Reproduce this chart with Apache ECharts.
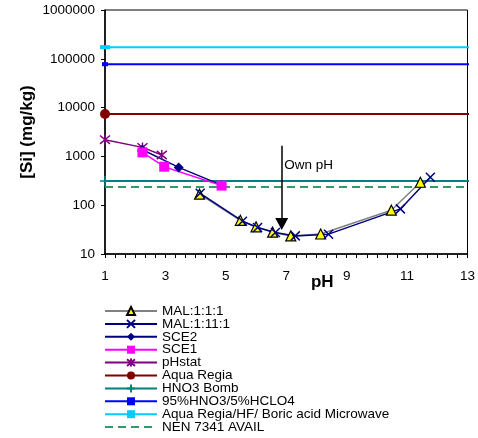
<!DOCTYPE html>
<html><head><meta charset="utf-8">
<script src="https://cdn.jsdelivr.net/npm/echarts@6/dist/echarts.min.js"></script>
<style>html,body{margin:0;padding:0;background:#fff}#c{width:478px;height:438px}</style>
</head><body><div id="c"></div>
<script>
const mal111X = [4.13, 5.48, 6.0, 6.55, 7.15, 8.14, 10.48, 11.44];
const mal111Y = [168, 49, 36, 28, 23.5, 25.7, 79, 295];
const mal1111X = [4.15, 5.55, 6.05, 6.64, 7.3, 8.4, 10.78, 11.77];
const mal1111Y = [175, 47, 35, 27.5, 23.5, 25.5, 84, 375];
const sce2X = [2.24, 3.44, 4.86];
const sce2Y = [1370, 595, 258];
const sce1X = [2.24, 2.96, 4.86];
const sce1Y = [1210, 615, 252];
const phstatX = [1.0, 2.24, 2.88];
const phstatY = [2200, 1530, 1070];
const levelStartX = 1;
const levelEndX = 13.16;
const aquaRegia = 7400;
const hno3Bomb = 315;
const hno3Hclo4 = 77600;
const aquaRegiaHF = 173000;
const nen7341 = 237;
const ownPhX = 6.85;
const ownPhFrom = 1660;
const ownPhTo = 41;
const ownPhLabel = [6.93, 670];
const xTicks = [1, 3, 5, 7, 9, 11, 13];
const yTicks = [10, 100, 1000, 10000, 100000, 1000000];

const pair = (xs, ys) => xs.map((x, i) => [x, ys[i]]);
const level = (v) => [[levelStartX, v], {value: [levelEndX, v], symbol: 'none'}];
const font = 'Liberation Sans, Arial, sans-serif';
const X_PATH = 'path://M0,0L10,10M10,0L0,10';
const STAR_PATH = 'path://M0,0L10,10M10,0L0,10M5,-1L5,11';
const PLUS_PATH = 'path://M5,0L5,10M0,5L10,5';

const chart = echarts.init(document.getElementById('c'), null, {renderer: 'canvas'});
const option = {
  animation: false,
  backgroundColor: '#fff',
  textStyle: {fontFamily: font},
  grid: {left: 105, top: 10, right: 9, bottom: 184, show: true, borderColor: '#000', borderWidth: 1},
  xAxis: {
    type: 'value', min: xTicks[0], max: xTicks[xTicks.length - 1], interval: 2,
    name: 'pH', nameLocation: 'middle', nameGap: 20, nameMoveOverlap: false,
    nameTextStyle: {fontFamily: font, fontSize: 17, fontWeight: 'bold', color: '#000', padding: [0, 0, 0, 72]},
    axisLine: {lineStyle: {color: '#000', width: 1.5}},
    axisTick: {show: true, inside: false, length: 4, lineStyle: {color: '#000'}},
    minorTick: {show: true, splitNumber: 6, length: 4, lineStyle: {color: '#000'}},
    axisLabel: {fontFamily: font, fontSize: 13.5, color: '#000', margin: 15},
    splitLine: {show: false}
  },
  yAxis: {
    type: 'log', logBase: 10, min: yTicks[0], max: yTicks[yTicks.length - 1],
    name: '[Si] (mg/kg)', nameLocation: 'middle', nameGap: 69, nameRotate: 90, nameMoveOverlap: false,
    nameTextStyle: {fontFamily: font, fontSize: 17, fontWeight: 'bold', color: '#000'},
    axisLine: {show: true, lineStyle: {color: '#000', width: 1.5}},
    axisTick: {show: true, inside: false, length: 4, lineStyle: {color: '#000'}},
    axisLabel: {fontFamily: font, fontSize: 13.5, color: '#000', margin: 10, formatter: v => String(Math.round(v))},
    splitLine: {show: false}
  },
  legend: {
    orient: 'vertical', left: 99, top: 302, height: 134, padding: [2, 5, 0, 5],
    itemWidth: 52, itemHeight: 10, itemGap: -1.1,
    textStyle: {fontFamily: font, fontSize: 13.5, color: '#000', lineHeight: 12.9},
    data: ['MAL:1:1:1', 'MAL:1:11:1', 'SCE2', 'SCE1', 'pHstat', 'Aqua Regia', 'HNO3 Bomb', '95%HNO3/5%HCLO4', 'Aqua Regia/HF/ Boric acid Microwave', 'NEN 7341 AVAIL']
  },
  series: [
    {name: 'Aqua Regia/HF/ Boric acid Microwave', type: 'line', clip: false, data: level(aquaRegiaHF),
     symbol: 'rect', symbolSize: [10, 4], lineStyle: {color: '#00CCFF', width: 2}, itemStyle: {color: '#00CCFF'}},
    {name: '95%HNO3/5%HCLO4', type: 'line', clip: false, data: level(hno3Hclo4),
     symbol: 'rect', symbolSize: [6, 4], lineStyle: {color: '#0000FF', width: 2}, itemStyle: {color: '#0000FF'}},
    {name: 'Aqua Regia', type: 'line', clip: false, data: level(aquaRegia),
     symbol: 'circle', symbolSize: 10, lineStyle: {color: '#800000', width: 2}, itemStyle: {color: '#800000'}},
    {name: 'HNO3 Bomb', type: 'line', clip: false, data: level(hno3Bomb),
     symbol: PLUS_PATH, symbolSize: 10, lineStyle: {color: '#008080', width: 2},
     itemStyle: {color: '#008080', borderColor: '#008080', borderWidth: 1.5}},
    {name: 'NEN 7341 AVAIL', type: 'line', clip: false, data: [[levelStartX, nen7341], [levelEndX, nen7341]],
     symbol: 'none', symbolSize: 0, showSymbol: false,
     lineStyle: {color: '#339966', width: 2, type: [8, 5]}, itemStyle: {color: '#339966', opacity: 0}},
    {name: 'pHstat', type: 'line', data: pair(phstatX, phstatY),
     symbol: STAR_PATH, symbolSize: 10, lineStyle: {color: '#800080', width: 1.5},
     itemStyle: {color: '#800080', borderColor: '#800080', borderWidth: 1.5}},
    {name: 'SCE2', type: 'line', data: pair(sce2X, sce2Y),
     symbol: 'diamond', symbolSize: 10, lineStyle: {color: '#000080', width: 1.5}, itemStyle: {color: '#000080'}},
    {name: 'SCE1', type: 'line', data: pair(sce1X, sce1Y),
     symbol: 'rect', symbolSize: 10, lineStyle: {color: '#FF00FF', width: 1.5}, itemStyle: {color: '#FF00FF'}},
    {name: 'MAL:1:1:1', type: 'line', data: pair(mal111X, mal111Y),
     symbol: 'triangle', symbolSize: 10, lineStyle: {color: '#808080', width: 1.5},
     itemStyle: {color: '#FFFF00', borderColor: '#000', borderWidth: 1.2}},
    {name: 'MAL:1:11:1', type: 'line', data: pair(mal1111X, mal1111Y),
     symbol: X_PATH, symbolSize: 9, lineStyle: {color: '#000080', width: 1.5},
     itemStyle: {color: '#000080', borderColor: '#000080', borderWidth: 1.5}},
    {name: 'ownPh', type: 'line', data: [], silent: true,
     markLine: {silent: true, symbol: ['none', 'triangle'], symbolSize: [13, 12], animation: false,
       lineStyle: {color: '#000', width: 1.5, type: 'solid'}, label: {show: false},
       data: [[{coord: [ownPhX, ownPhFrom]}, {coord: [ownPhX, ownPhTo]}]]},
     markPoint: {silent: true, symbol: 'circle', symbolSize: 0,
       label: {show: true, position: 'right', distance: 0, formatter: 'Own pH', fontFamily: font, fontSize: 13.5, color: '#000'},
       data: [{coord: ownPhLabel}]}}
  ]
};
chart.setOption(option);
</script></body></html>
